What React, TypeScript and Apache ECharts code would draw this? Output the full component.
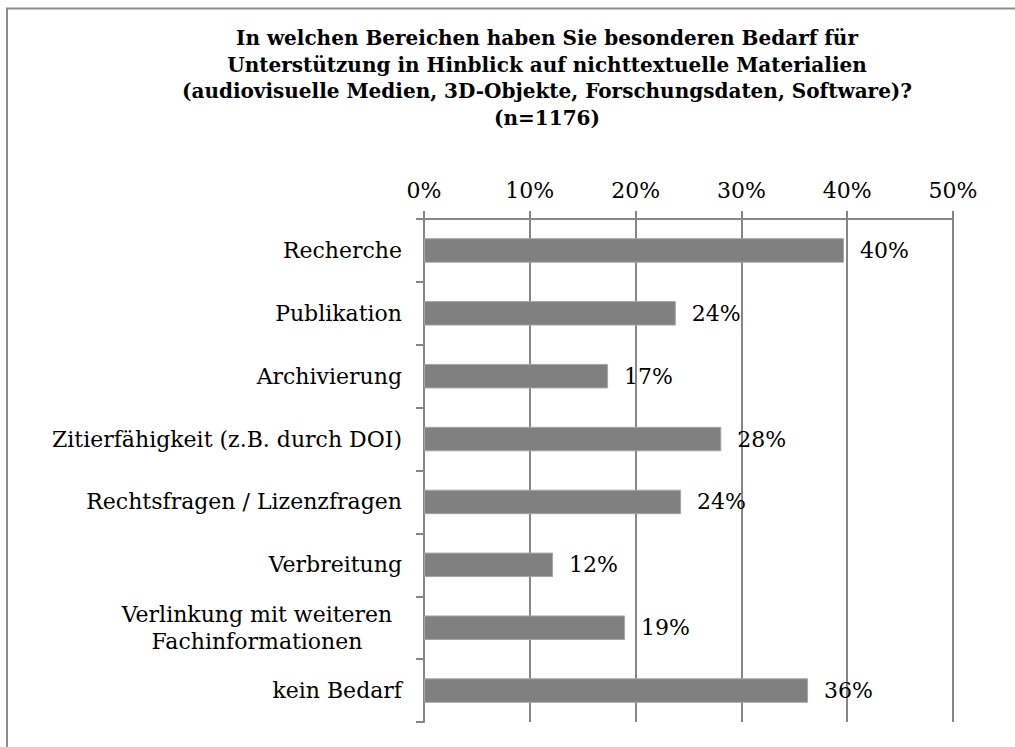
import React, { useEffect, useRef } from "react";
import * as echarts from "echarts";

const titleLines = [
  "In welchen Bereichen haben Sie besonderen Bedarf für",
  "Unterstützung in Hinblick auf nichttextuelle Materialien",
  "(audiovisuelle Medien, 3D-Objekte, Forschungsdaten, Software)?",
  "(n=1176)",
];

const categories = [
  "Recherche",
  "Publikation",
  "Archivierung",
  "Zitierfähigkeit (z.B. durch DOI)",
  "Rechtsfragen / Lizenzfragen",
  "Verbreitung",
  "Verlinkung mit weiteren\nFachinformationen",
  "kein Bedarf",
];

const values = [39.7, 23.8, 17.4, 28.1, 24.3, 12.2, 19.0, 36.3];

const axisMin = 0;
const axisMax = 50;
const axisInterval = 10;

const FONT = "'DejaVu Serif', 'Liberation Serif', serif";

export default function App() {
  const ref = useRef<HTMLDivElement>(null);

  useEffect(() => {
    if (!ref.current) return;
    const chart = echarts.init(ref.current, null, { renderer: "svg" });
    chart.setOption({
      animation: false,
      backgroundColor: "#ffffff",
      graphic: [
        {
          type: "rect",
          shape: { x: 7, y: 8.5, width: 1100, height: 800 },
          style: { fill: "none", stroke: "#8c8c8c", lineWidth: 2 },
          silent: true,
        },
        {
          type: "text",
          x: 547,
          y: 25,
          style: {
            text: titleLines.join("\n"),
            textAlign: "center",
            textVerticalAlign: "top",
            fontFamily: FONT,
            fontSize: 20,
            fontWeight: "bold",
            lineHeight: 26.5,
            fill: "#000000",
          },
        },
      ],
      grid: { left: 424, top: 219, right: 62, bottom: 25, containLabel: false },
      xAxis: {
        type: "value",
        position: "top",
        min: axisMin,
        max: axisMax,
        interval: axisInterval,
        axisLine: { show: true, lineStyle: { color: "#868686", width: 2 } },
        axisTick: { show: true, length: 8, lineStyle: { color: "#868686", width: 2 } },
        splitLine: { show: true, lineStyle: { color: "#868686", width: 2 } },
        axisLabel: {
          formatter: "{value}%",
          fontFamily: FONT,
          fontSize: 22,
          color: "#000000",
          margin: 18,
        },
      },
      yAxis: {
        type: "category",
        inverse: true,
        data: categories,
        axisLine: { show: true, lineStyle: { color: "#868686", width: 2 } },
        axisTick: { show: true, length: 8, lineStyle: { color: "#868686", width: 2 } },
        axisLabel: {
          margin: 22,
          fontFamily: FONT,
          fontSize: 22,
          color: "#000000",
          formatter: (v: string) =>
            v.indexOf("\n") >= 0
              ? v
                  .split("\n")
                  .map((s) => "{c|" + s + "}")
                  .join("\n")
              : v,
          rich: {
            c: {
              width: 290,
              align: "center",
              fontFamily: FONT,
              fontSize: 22,
              lineHeight: 27,
              color: "#000000",
            },
          },
        },
      },
      series: [
        {
          type: "bar",
          data: values,
          barWidth: 24.5,
          itemStyle: { color: "#808080", borderColor: "#a6a6a6", borderWidth: 1 },
          label: {
            show: true,
            position: "right",
            distance: 16,
            fontFamily: FONT,
            fontSize: 22,
            color: "#000000",
            formatter: (p: any) => Math.round(p.value) + "%",
          },
        },
      ],
    });
    return () => chart.dispose();
  }, []);

  return (
    <div
      ref={ref}
      style={{ position: "fixed", left: 0, top: 0, width: 1015, height: 747 }}
    />
  );
}
